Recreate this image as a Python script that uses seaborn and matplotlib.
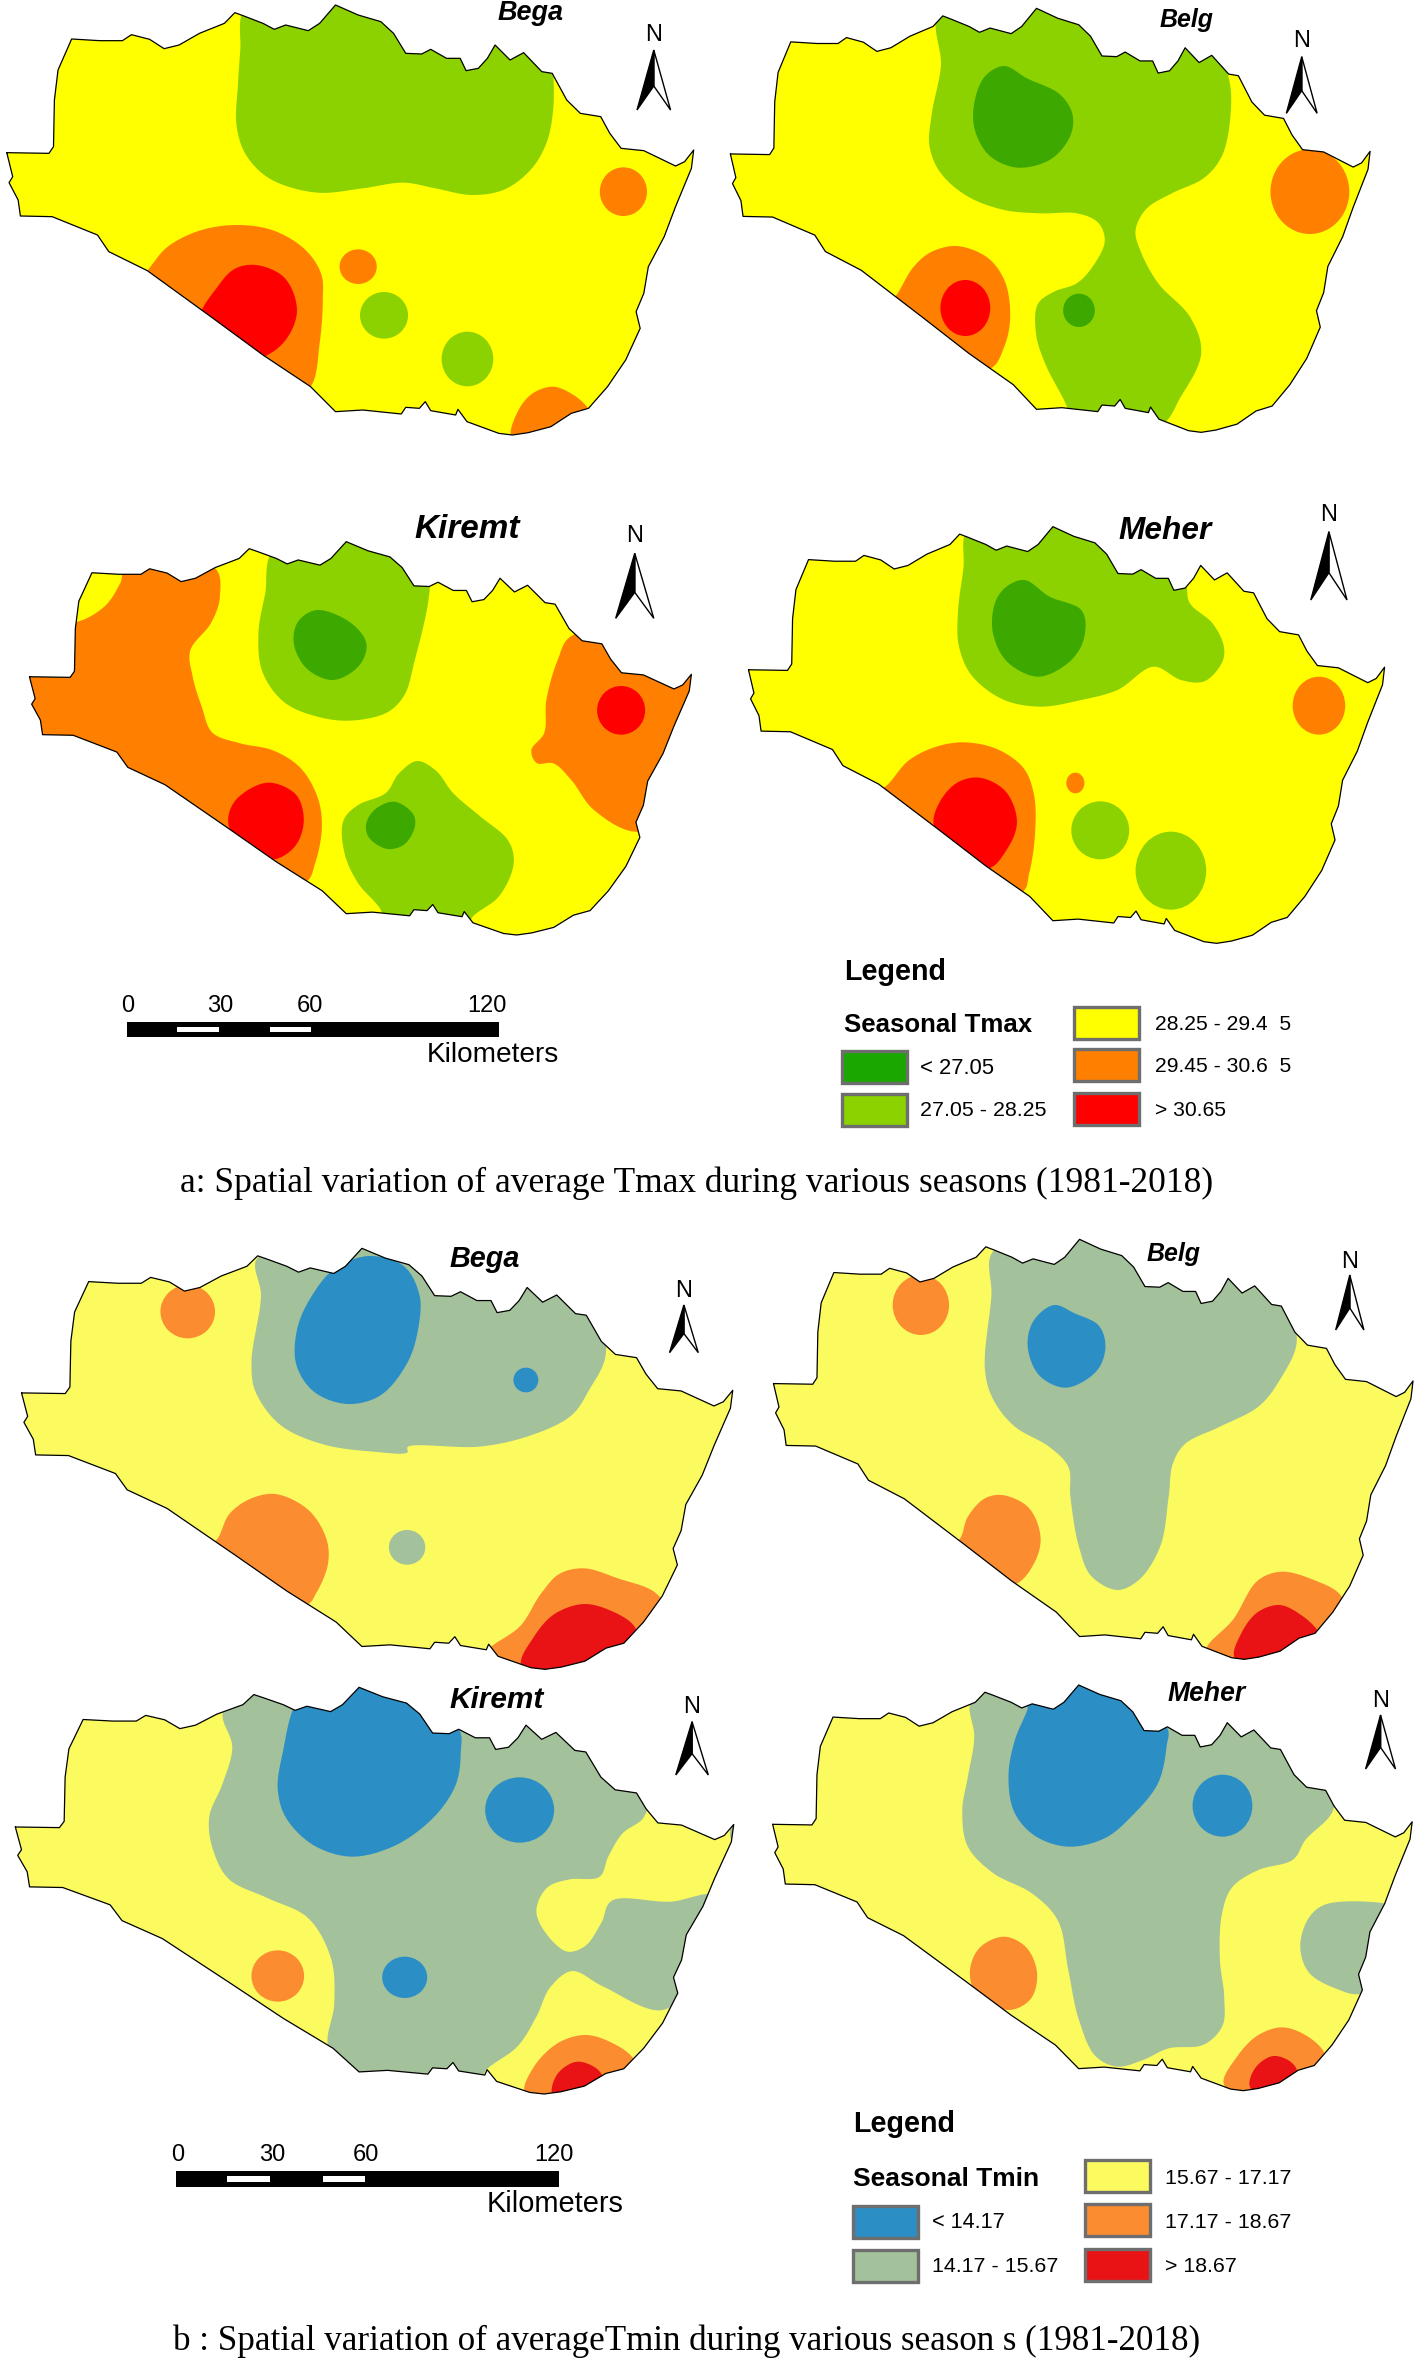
import numpy as np
import matplotlib
matplotlib.use("Agg")
import matplotlib.pyplot as plt
from matplotlib.patches import Polygon, Ellipse, Rectangle
import seaborn as sns

sns.set_theme(style="white")
plt.rcParams['font.family'] = ['Liberation Sans', 'DejaVu Sans']

# colours of the classes
COLS_A = sns.color_palette(['#3CA800', '#8CD200', '#FFFF00', '#FF8000', '#FF0000'])
COLS_B = sns.color_palette(['#2B8FC6', '#A3C19B', '#FBFB5F', '#FB8D30', '#E91316'])
SWATCH_A = sns.color_palette(['#1AA800', '#8CD200', '#FFFF00', '#FF8000', '#FF0000'])
D, L, Y, O, R = 0, 1, 2, 3, 4

# district boundary, traced once, every map is this shape in its own box
OUTLINE = [(15,458),(108,460),(118,440),(120,300),(128,210),(158,117),(220,122),(270,122),(290,104),(330,118),
           (362,146),(395,135),(440,100),(495,70),(518,38),(538,48),(580,70),(605,88),(630,75),(680,92),(705,70),
           (740,15),(790,45),(840,65),(868,100),(895,160),(930,162),(950,148),(985,175),(1015,175),(1028,212),
           (1055,205),(1075,175),(1092,135),(1125,180),(1155,158),(1195,215),(1218,220),(1250,300),(1280,340),
           (1325,350),(1345,400),(1370,445),(1420,452),(1490,498),(1510,485),(1530,450),(1525,505),(1490,620),
           (1465,710),(1430,800),(1420,880),(1403,935),(1412,985),(1380,1080),(1340,1160),(1298,1225),(1260,1240),
           (1215,1280),(1165,1298),(1130,1305),(1100,1300),(1030,1265),(1010,1228),(1005,1245),(950,1232),(938,1205),
           (925,1225),(895,1222),(885,1242),(800,1230),(740,1235),(685,1160),(580,1065),(470,955),(325,812),
           (240,755),(215,705),(115,650),(45,648),(40,600),(20,548),(28,530)]
OUTLINE_BOX = (15, 1530, 15, 1305)

# ###Tmax maps
A_BEGA_AREAS = [
    (L, [(538,30),(530,150),(525,250),(522,380),(545,470),(600,540),(700,578),(800,565),(890,548),(960,565),(1040,585),
         (1110,570),(1170,510),(1205,430),(1220,330),(1220,200),(1215,100),(900,-20),(600,-20)]),
    (O, [(325,812),(370,740),(440,692),(520,675),(600,690),(670,745),(708,820),(712,900),(705,1030),(685,1160),
         (640,1200),(300,850)]),
    (R, [(565,795),(625,830),(655,930),(630,1020),(585,1068),(530,1080),(440,970),(480,860),(520,805)]),
    (O, [(1130,1320),(1140,1240),(1175,1180),(1220,1160),(1265,1185),(1300,1230),(1320,1300),(1200,1350)]),
]
A_BEGA_SPOTS = [(O,1375,575,52,73),(O,790,800,41,52),(L,847,946,53,70),(L,1031,1077,57,82)]

A_BELG_AREAS = [
    (L, [(510,30),(510,200),(490,340),(485,440),(510,520),(570,590),(650,630),(730,640),(810,640),(855,665),(872,720),
         (850,790),(810,850),(760,875),(725,910),(720,1000),(740,1090),(790,1225),(800,1280),(990,1280),(1040,1190),
         (1085,1060),(1060,950),(990,850),(950,750),(940,690),(965,625),(1020,580),(1090,535),(1130,470),(1150,340),
         (1145,230),(1100,100),(700,0)]),
    (D, [(650,198),(700,235),(770,280),(800,340),(795,410),(750,480),(680,503),(620,470),(585,390),(585,300),(610,225)]),
    (O, [(545,738),(610,770),(650,840),(663,950),(650,1040),(620,1105),(560,1100),(390,920),(412,885),(450,800),(490,755)]),
]
A_BELG_SPOTS = [(D,815,931,35,50),(R,564,924,55,84),(O,1325,575,87,127)]

A_KIREMT_AREAS = [
    (O, [(280,200),(470,200),(485,290),(465,370),(420,450),(425,530),(445,620),(470,700),(530,730),(600,750),(660,800),
         (700,890),(710,980),(695,1090),(675,1145),(600,1150),(300,950),(50,750),(30,500),(120,360),(170,365),(230,320),(265,250)]),
    (R, [(590,848),(650,880),(670,960),(650,1040),(605,1078),(560,1060),(505,980),(520,900)]),
    (L, [(605,150),(585,280),(570,400),(580,520),(630,610),(700,650),(770,662),(850,640),(890,590),(915,480),(945,300),
         (945,240),(880,100),(750,100)]),
    (D, [(700,330),(770,365),(808,430),(790,500),(735,540),(680,510),(648,430),(660,360)]),
    (L, [(920,783),(960,810),(1000,880),(1060,950),(1120,1020),(1133,1090),(1100,1190),(1040,1255),(1040,1290),(850,1290),
         (840,1230),(790,1150),(760,1060),(758,960),(790,915),(850,880),(880,820)]),
    (D, [(870,905),(910,940),(915,980),(890,1035),(855,1047),(815,1015),(808,970),(830,925)]),
    (O, [(1258,410),(1230,480),(1205,600),(1200,700),(1172,750),(1185,790),(1220,790),(1260,840),(1310,930),(1400,995),
         (1500,950),(1560,500),(1350,380)]),
]
A_KIREMT_SPOTS = [(R,1370,631,53,73)]

A_MEHER_AREAS = [
    (L, [(565,100),(560,200),(548,330),(550,440),(580,530),(650,600),(730,620),(820,600),(900,570),(980,500),(1040,540),
         (1090,545),(1130,490),(1135,440),(1110,370),(1060,310),(1050,250),(1000,150),(800,50),(600,70)]),
    (D, [(695,240),(750,290),(820,330),(825,420),(790,490),(725,530),(660,490),(625,400),(632,300),(660,255)]),
    (O, [(385,862),(440,780),(500,740),(560,727),(630,745),(690,800),(715,880),(718,1000),(705,1120),(690,1175),(600,1180),(350,880)]),
    (R, [(595,833),(650,870),(678,965),(655,1050),(615,1105),(560,1070),(495,980),(510,900),(550,845)]),
]
A_MEHER_SPOTS = [(O,1345,617,58,87),(O,807,849,20,31),(L,862,991,64,87),(L,1018,1112,78,117)]

# ###Tmin maps
B_BEGA_AREAS = [
    (L, [(540,80),(545,200),(525,400),(535,490),(590,590),(680,645),(780,665),(850,668),(852,650),(1000,650),(1100,620),
         (1190,560),(1230,480),(1265,370),(1230,200),(900,60),(700,50)]),
    (D, [(770,78),(840,105),(875,190),(875,280),(850,400),(790,500),(725,522),(660,490),(620,410),(620,300),(650,200),(700,115)]),
    (O, [(575,792),(640,835),(680,920),(685,1000),(660,1090),(640,1125),(560,1120),(430,950),(452,930),(480,850),(525,805)]),
    (O, [(1030,1245),(1085,1190),(1130,1090),(1170,1030),(1220,1015),(1290,1045),(1370,1090),(1400,1200),(1200,1340),(1050,1310),(1010,1270)]),
    (R, [(1090,1310),(1115,1220),(1160,1150),(1220,1122),(1280,1145),(1325,1190),(1330,1260),(1180,1340)]),
]
B_BEGA_SPOTS = [(D,1098,450,26,37),(O,392,245,57,80),(L,850,952,38,52)]

B_BELG_AREAS = [
    (L, [(572,60),(565,200),(550,420),(570,510),(620,590),(700,650),(745,710),(750,800),(770,950),(800,1040),(860,1080),
         (910,1050),(960,950),(980,800),(990,700),(1020,640),(1100,590),(1190,530),(1240,450),(1280,330),(1240,200),(900,60),(750,20)]),
    (D, [(712,225),(760,250),(815,285),(832,350),(810,425),(740,473),(680,440),(650,350),(665,270)]),
    (O, [(590,795),(650,830),(680,920),(665,1000),(622,1062),(560,1060),(470,950),(492,925),(510,860),(550,805)]),
    (O, [(1070,1250),(1130,1170),(1190,1050),(1245,1025),(1320,1050),(1382,1095),(1400,1200),(1200,1330),(1070,1280)]),
    (R, [(1135,1285),(1150,1210),(1190,1145),(1240,1125),(1290,1155),(1330,1205),(1340,1260),(1200,1320)]),
]
B_BELG_SPOTS = [(O,400,225,66,90)]

B_KIREMT_AREAS = [
    (L, [(465,130),(485,230),(465,340),(437,440),(445,540),(480,630),(560,685),(640,740),(690,860),(698,1000),(685,1130),
         (730,1230),(1000,1240),(1015,1200),(1080,1130),(1120,1040),(1150,950),(1195,903),(1260,950),(1385,1020),(1500,800),
         (1490,675),(1400,695),(1280,690),(1255,760),(1220,830),(1185,845),(1140,790),(1120,720),(1145,650),(1190,628),
         (1250,622),(1270,560),(1300,490),(1345,440),(1345,300),(1100,100),(700,0),(500,60)]),
    (D, [(620,100),(590,250),(580,360),(600,450),(660,530),(735,560),(820,530),(900,450),(950,350),(962,250),(955,170),(800,30),(640,90)]),
    (O, [(1098,1275),(1115,1190),(1170,1115),(1225,1095),(1280,1120),(1322,1165),(1330,1230),(1200,1310)]),
    (R, [(1155,1280),(1165,1210),(1205,1175),(1245,1195),(1258,1230),(1200,1300)]),
]
B_KIREMT_SPOTS = [(D,1085,420,72,98),(D,845,922,47,62),(O,580,918,55,77),(L,1532,490,8,25)]

B_MEHER_AREAS = [
    (L, [(515,105),(525,200),(510,320),(497,420),(510,530),(570,610),(660,670),(720,750),(745,900),(770,1050),(810,1160),
         (860,1190),(920,1170),(980,1135),(1060,1125),(1105,1070),(1110,980),(1100,870),(1105,730),(1130,650),(1190,600),
         (1270,570),(1300,510),(1365,420),(1350,300),(1100,100),(750,20),(540,60)]),
    (L, [(1485,700),(1350,702),(1310,740),(1288,830),(1310,910),(1370,955),(1428,972),(1500,900),(1530,720)]),
    (D, [(650,115),(620,210),(605,320),(620,430),(670,500),(745,530),(830,505),(900,430),(955,340),(975,230),(975,170),(800,30),(650,100)]),
    (O, [(595,800),(645,830),(672,910),(655,990),(605,1020),(530,970),(515,900),(540,830)]),
    (O, [(1110,1245),(1140,1160),(1190,1095),(1245,1072),(1300,1095),(1345,1150),(1340,1200),(1200,1290)]),
    (R, [(1170,1250),(1185,1190),(1225,1158),(1265,1175),(1280,1210),(1200,1280)]),
]
B_MEHER_SPOTS = [(D,1106,407,70,93)]

# name, colours, crop (x0, y0, width), box of shape, areas, spots, north (cx, n_y, top, bottom, half width), title (x0, x1, y)
MAPS = [
    ('Bega', COLS_A, (0,0,710), (15,1530,15,1305), A_BEGA_AREAS, A_BEGA_SPOTS, (1442,105,150,330,37), (498,564,13)),
    ('Belg', COLS_A, (710,0,709), (45,1458,25,1297), A_BELG_AREAS, A_BELG_SPOTS, (1307,122,170,340,34), (1160,1214,20)),
    ('Kiremt', COLS_A, (0,500,710), (65,1525,125,1305), A_KIREMT_AREAS, A_KIREMT_SPOTS, (1400,108,160,355,42), (414,519,529)),
    ('Meher', COLS_A, (710,500,709), (85,1490,80,1330), A_MEHER_AREAS, A_MEHER_SPOTS, (1367,45,95,300,40), (1118,1211,531)),
    ('Bega', COLS_B, (0,1230,750), (45,1530,55,1318), B_BEGA_AREAS, B_BEGA_SPOTS, (1428,182,225,368,30), (449,519,1259)),
    ('Belg', COLS_B, (750,1230,669), (55,1552,28,1288), B_BELG_AREAS, B_BELG_SPOTS, (1404,95,135,300,33), (1147,1201,1254)),
    ('Kiremt', COLS_B, (0,1670,750), (32,1532,52,1272), B_KIREMT_AREAS, B_KIREMT_SPOTS, (1445,110,155,315,34), (449,543,1700)),
    ('Meher', COLS_B, (750,1670,669), (53,1550,45,1262), B_MEHER_AREAS, B_MEHER_SPOTS, (1476,92,135,297,35), (1168,1246,1694)),
]

LEGEND_A = ['< 27.05', '27.05 - 28.25', '28.25 - 29.4  5', '29.45 - 30.6  5', '> 30.65']
LEGEND_B = ['< 14.17', '14.17 - 15.67', '15.67 - 17.17', '17.17 - 18.67', '> 18.67']
SCALE_LABELS = ['0', '30', '60', '120']
CAPTION_A = 'a: Spatial variation of average Tmax during various seasons (1981-2018)'
CAPTION_B = 'b : Spatial variation of averageTmin during various season s (1981-2018)'

ZOOM_W = 1566.0
ZOOM_H = 3.0

def smooth(pts, n=14):
    # closed centripetal catmull-rom through the traced points, keeps outside points from bulging in
    p = np.array(pts, dtype=float)
    out = []
    for i in range(len(p)):
        p0, p1, p2, p3 = p[i-1], p[i], p[(i+1) % len(p)], p[(i+2) % len(p)]
        t0 = 0.0
        t1 = t0 + np.linalg.norm(p1-p0)**0.5
        t2 = t1 + np.linalg.norm(p2-p1)**0.5
        t3 = t2 + np.linalg.norm(p3-p2)**0.5
        for t in np.linspace(t1, t2, n, endpoint=False):
            a1 = (t1-t)/(t1-t0)*p0 + (t-t0)/(t1-t0)*p1
            a2 = (t2-t)/(t2-t1)*p1 + (t-t1)/(t2-t1)*p2
            a3 = (t3-t)/(t3-t2)*p2 + (t-t2)/(t3-t2)*p3
            b1 = (t2-t)/(t2-t0)*a1 + (t-t0)/(t2-t0)*a2
            b2 = (t3-t)/(t3-t1)*a2 + (t-t1)/(t3-t1)*a3
            out.append((t2-t)/(t2-t1)*b1 + (t-t1)/(t2-t1)*b2)
    return np.array(out)

fig = plt.figure(figsize=(14.19, 23.62), dpi=100)
ax = fig.add_axes([0, 0, 1, 1])
renderer = fig.canvas.get_renderer()

def fit_text(x0, x1, y, s, ha='left', **kw):
    # size the text so it spans x0..x1 like the reference
    t = ax.text(x0, y, s, va='center', ha=ha, fontsize=20, **kw)
    w = t.get_window_extent(renderer).width
    t.set_fontsize(20*(x1-x0)/w)
    return t

for name, cols, crop, box, areas, spots, north, title in MAPS:
    x0, y0, cw = crop
    sx = ZOOM_W/cw
    def px(pts):
        pts = np.asarray(pts, dtype=float)
        return np.column_stack([x0 + pts[:, 0]/sx, y0 + pts[:, 1]/ZOOM_H])
    # fit the boundary in the box of this map
    o = np.array(OUTLINE, dtype=float)
    o[:, 0] = box[0] + (o[:, 0]-OUTLINE_BOX[0])/(OUTLINE_BOX[1]-OUTLINE_BOX[0])*(box[1]-box[0])
    o[:, 1] = box[2] + (o[:, 1]-OUTLINE_BOX[2])/(OUTLINE_BOX[3]-OUTLINE_BOX[2])*(box[3]-box[2])
    o = px(o)
    base = Polygon(o, closed=True, facecolor=cols[Y], edgecolor='none', zorder=1)
    ax.add_patch(base)
    for c, pts in areas:
        a = Polygon(px(smooth(pts)), closed=True, facecolor=cols[c], edgecolor='none', zorder=2)
        ax.add_patch(a)
        a.set_clip_path(base)
    for c, cx, cy, rx, ry in spots:
        e = Ellipse(px([(cx, cy)])[0], 2*rx/sx, 2*ry/ZOOM_H, facecolor=cols[c], edgecolor='none', zorder=3)
        ax.add_patch(e)
        e.set_clip_path(base)
    ring = np.vstack([o, o[:1]])
    sns.lineplot(x=ring[:, 0], y=ring[:, 1], sort=False, estimator=None, color='black', linewidth=0.9,
                 legend=False, ax=ax, zorder=4)
    # north arrow
    cx, ny, top, bot, hw = north
    tip, notch = px([(cx, top), (cx, top+0.6*(bot-top))])
    bl, br = px([(cx-hw, bot), (cx+hw, bot)])
    ax.add_patch(Polygon([tip, notch, br], closed=True, facecolor='white', edgecolor='black', linewidth=1, zorder=5))
    ax.add_patch(Polygon([tip, notch, bl], closed=True, facecolor='black', edgecolor='black', linewidth=1, zorder=5))
    npos = px([(cx, ny)])[0]
    ax.text(npos[0], npos[1], 'N', ha='center', va='center', fontsize=17, color='black')
    fit_text(title[0], title[1], title[2], name, fontweight='bold', fontstyle='italic', color='black')

def scale_bar(x0, x1, y0, y1, whites, labels_x, label_y, km):
    ax.add_patch(Rectangle((x0, y0), x1-x0, y1-y0, facecolor='black', edgecolor='none'))
    for w0, w1 in whites:
        ax.add_patch(Rectangle((w0, y0+5), w1-w0, y1-y0-10, facecolor='white', edgecolor='none'))
    for lab, lx in zip(SCALE_LABELS, labels_x):
        ax.text(lx, label_y, lab, ha='center', va='center', fontsize=17, color='black')
    fit_text(km[0], km[1], km[2], 'Kilometers', color='black', fontweight='normal')

scale_bar(127, 499, 1022, 1037, [(177, 219), (270, 311)], [128, 220, 310, 487], 1006, (427, 559, 1055))
scale_bar(176, 559, 2171, 2187, [(227, 270), (323, 365)], [178, 272, 366, 554], 2155, (487, 624, 2204))

def legend_block(cols, labels, tx0, tx1, ty, sx0, sx1, sy, st, rows, swx, texts):
    fit_text(tx0, tx1, ty, 'Legend', fontweight='bold', color='black')
    fit_text(sx0, sx1, sy, st, fontweight='bold', color='black')
    for (c, lab, (rx, ry), (lx0, lx1, ly)) in zip(range(5), labels, rows, texts):
        ax.add_patch(Rectangle((rx, ry), swx, 32, facecolor=cols[c], edgecolor='#6e6e6e', linewidth=2.4))
        fit_text(lx0, lx1, ly, lab, color='black')

legend_block(SWATCH_A, LEGEND_A, 844, 946, 972, 844, 1032, 1025, 'Seasonal Tmax',
             [(842, 1051), (842, 1094), (1074, 1007), (1074, 1049), (1074, 1093)], 65,
             [(920, 994, 1068), (920, 1046, 1111), (1155, 1291, 1025), (1155, 1291, 1067), (1155, 1226, 1110)])
legend_block(COLS_B, LEGEND_B, 853, 955, 2124, 853, 1039, 2179, 'Seasonal Tmin',
             [(853, 2206), (853, 2250), (1085, 2160), (1085, 2204), (1085, 2249)], 65,
             [(932, 1005, 2223), (932, 1058, 2267), (1165, 1291, 2178), (1165, 1291, 2222), (1165, 1237, 2266)])

fit_text(180, 1212, 1183, CAPTION_A, family='Liberation Serif', color='black')
fit_text(173, 1202, 2341, CAPTION_B, family='Liberation Serif', color='black')

ax.set_xlim(0, 1419)
ax.set_ylim(2362, 0)
ax.axis('off')
plt.savefig('out.png', dpi=100, facecolor='white')
